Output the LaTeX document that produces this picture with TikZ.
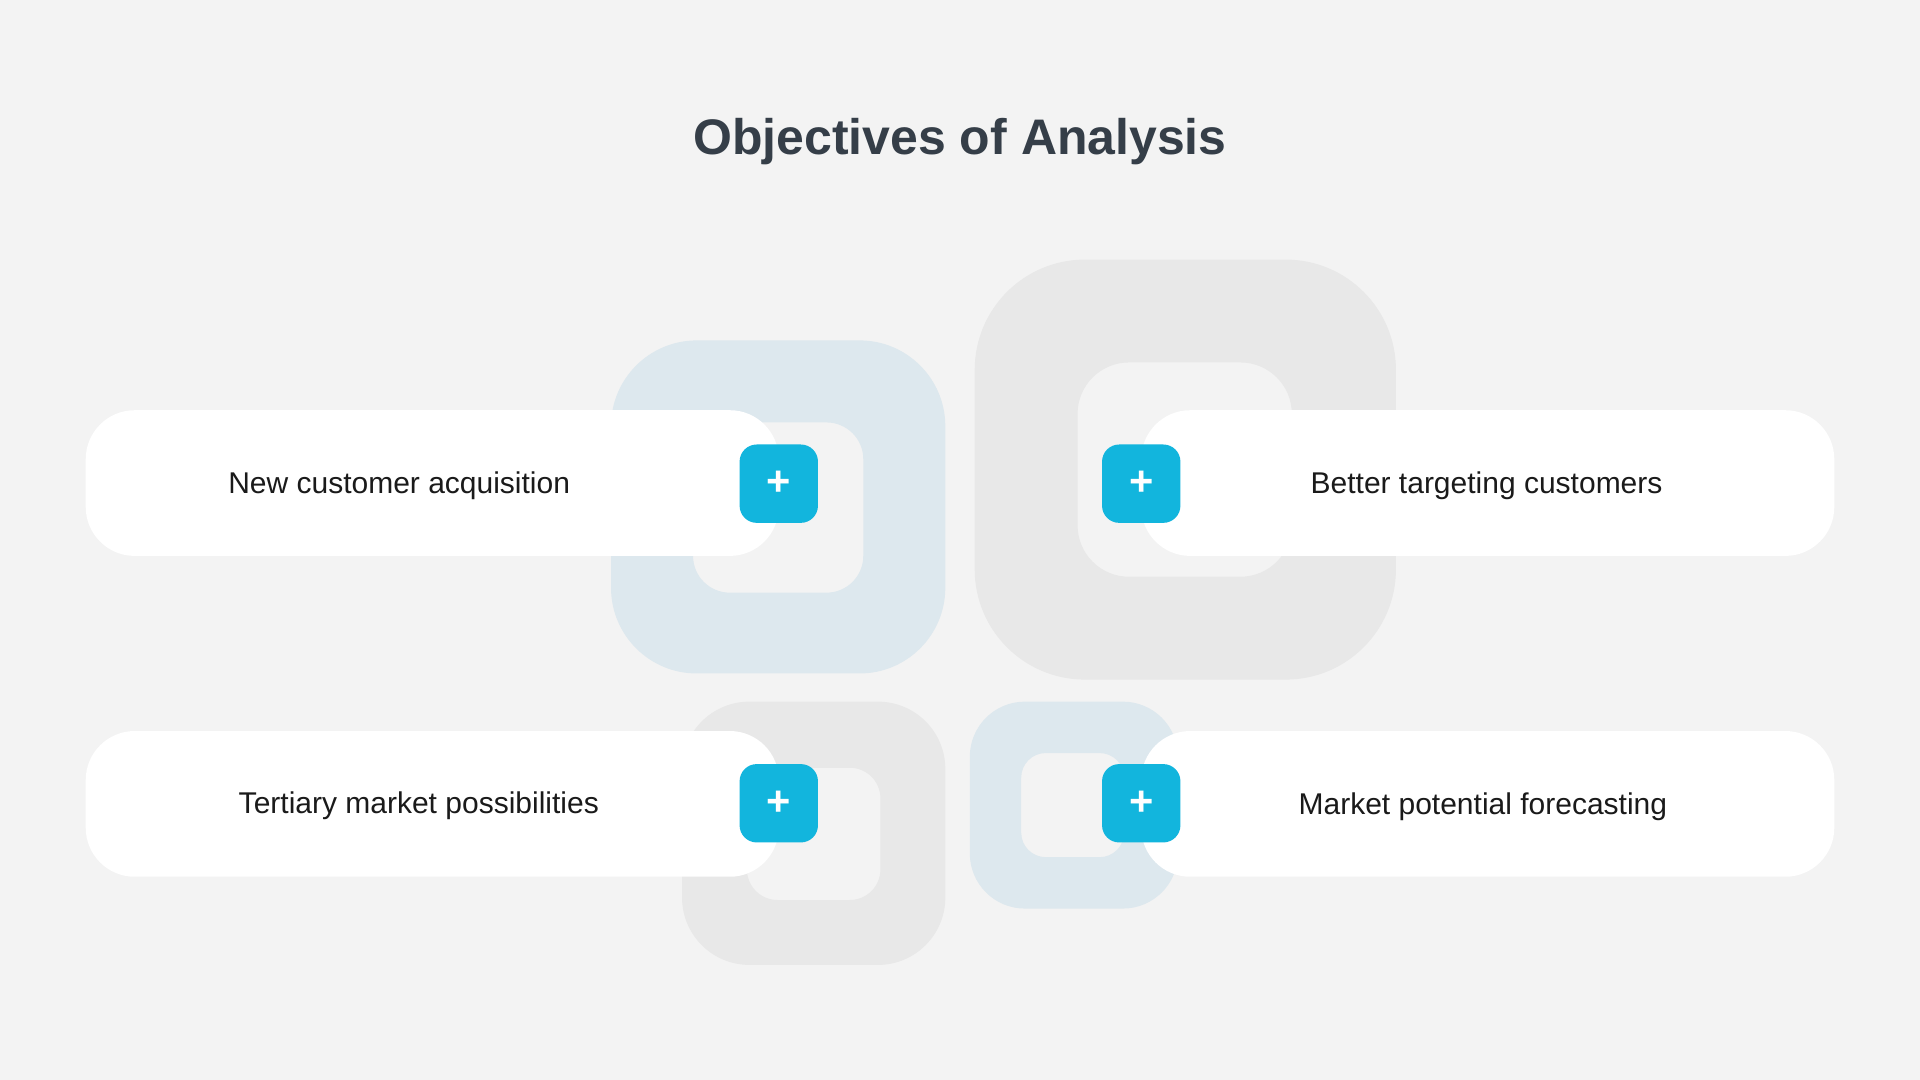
\documentclass[tikz,border=0pt]{standalone}
\usepackage{fontspec}
\setmainfont{Liberation Sans}
\definecolor{bg}{HTML}{F3F3F3}
\definecolor{ringblue}{HTML}{DDE8EE}
\definecolor{ringgrey}{HTML}{E8E8E8}
\definecolor{plusblue}{HTML}{12B5DD}
\definecolor{titlec}{HTML}{353E48}
\definecolor{txt}{HTML}{1A1A1A}
\tikzset{
  card/.style={fill=white,rounded corners=40pt},
  plusbox/.style={fill=plusblue,rounded corners=14pt,minimum width=64pt,minimum height=64pt,inner sep=0pt,text=white,font=\fontsize{34}{34}\selectfont\bfseries},
  lbl/.style={text=txt,font=\fontsize{24.5}{28}\selectfont},
}
\begin{document}
\begin{tikzpicture}[x=1pt,y=-1pt]
\fill[bg] (0,0) rectangle (1568,882);
\useasboundingbox (0,0) rectangle (1568,882);
\node[text=titlec,font=\fontsize{40.8}{44}\selectfont\bfseries] (title) at (784,116) {Objectives of Analysis};
% rings
\fill[ringblue,even odd rule] [rounded corners=70pt] (499,278) rectangle (772,550) [rounded corners=30pt] (566,345) rectangle (705,484);
\fill[ringgrey,even odd rule] [rounded corners=90pt] (796,212) rectangle (1140,555) [rounded corners=42pt] (880,296) rectangle (1055,471);
\fill[ringgrey,even odd rule] [rounded corners=55pt] (557,573) rectangle (772,788) [rounded corners=25pt] (610,627) rectangle (719,735);
\fill[ringblue,even odd rule] [rounded corners=45pt] (792,573) rectangle (962,742) [rounded corners=20pt] (834,615) rectangle (918,700);
% cards
\fill[card] (70,335) rectangle (636,454);
\fill[card] (932,335) rectangle (1498,454);
\fill[card] (70,597) rectangle (636,716);
\fill[card] (932,597) rectangle (1498,716);
\node[lbl] (t1) at (326,397) {New customer acquisition};
\node[lbl] (t2) at (1214,397) {Better targeting customers};
\node[lbl] (t3) at (342,658) {Tertiary market possibilities};
\node[lbl] (t4) at (1211,659) {Market potential forecasting};
\node[plusbox] (p1) at (636,395) {+};
\node[plusbox] (p2) at (932,395) {+};
\node[plusbox] (p3) at (636,656) {+};
\node[plusbox] (p4) at (932,656) {+};
\end{tikzpicture}
\end{document}
